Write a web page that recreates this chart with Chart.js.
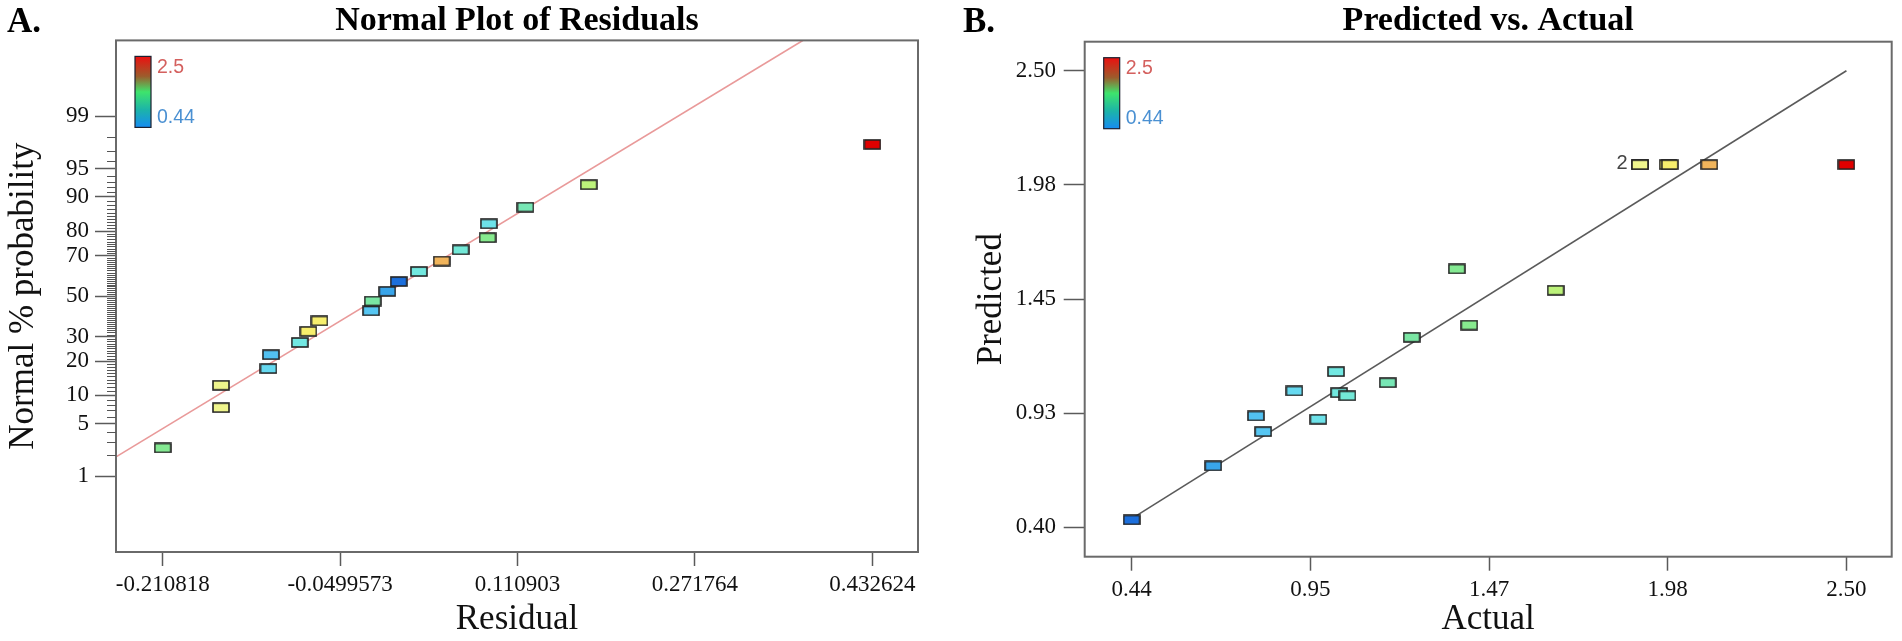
<!DOCTYPE html>
<html>
<head>
<meta charset="utf-8">
<script src="https://cdn.jsdelivr.net/npm/chart.js@4.4.1/dist/chart.umd.min.js"></script>
<style>
  html, body { margin: 0; padding: 0; background: #fff; }
  #wrap { position: relative; width: 1902px; height: 641px; overflow: hidden; }
  .panel { position: absolute; top: 0; width: 951px; height: 641px; }
  .tag { position: absolute; top: 3px; font: bold 35px "Liberation Serif", "Times New Roman", serif; line-height: 35px; color: #000; }
</style>
</head>
<body>
<div id="wrap">
  <div class="panel" style="left:0"><canvas id="residualChart" width="951" height="641"></canvas></div>
  <div class="panel" style="left:951px"><canvas id="predChart" width="951" height="641"></canvas></div>
  <div class="tag" style="left:7px">A.</div>
  <div class="tag" style="left:963px">B.</div>
</div>
<script>
// runs: actual response and model prediction
var actualValues    = [0.44, 0.675, 0.798, 0.819, 0.909, 0.978, 1.029, 1.038, 1.062, 1.178, 1.247, 1.377, 1.413, 1.662, 1.905, 1.905, 1.985, 1.991, 2.105, 2.50];
var predictedValues = [0.434, 0.682, 0.912, 0.840, 1.027, 0.897, 1.116, 1.019, 1.005, 1.065, 1.274, 1.588, 1.330, 1.490, 2.068, 2.068, 2.068, 2.068, 2.068, 2.068];

// normal plot: ordered residuals, their normal % probability, response (for colour)
var residuals        = [-0.2108, -0.158, -0.158, -0.1149, -0.1127, -0.0865, -0.0787, -0.0687, -0.0219, -0.0204, -0.0072, 0.0032, 0.0215, 0.0421, 0.0593, 0.0837, 0.0849, 0.1181, 0.1754, 0.4326];
var residualProb     = [2.5, 7.5, 12.5, 17.5, 22.5, 27.5, 32.5, 37.5, 42.5, 47.5, 52.5, 57.5, 62.5, 67.5, 72.5, 77.5, 82.5, 87.5, 92.5, 97.5];
var residualResponse = [1.377, 1.905, 1.905, 0.909, 0.798, 1.029, 1.991, 1.985, 0.819, 1.247, 0.675, 0.44, 1.038, 2.105, 1.062, 1.413, 0.978, 1.178, 1.662, 2.50];

// tick values and labels
var residualTicks = [-0.210818, -0.0499573, 0.110903, 0.271764, 0.432624];
var residualTickLabels = ['-0.210818', '-0.0499573', '0.110903', '0.271764', '0.432624'];
var probTicks = [1, 5, 10, 20, 30, 50, 70, 80, 90, 95, 99];
var actualTicks = [0.44, 0.955, 1.47, 1.985, 2.50];
var actualTickLabels = ['0.44', '0.95', '1.47', '1.98', '2.50'];
var predTicks = [0.40, 0.925, 1.45, 1.975, 2.50];
var predTickLabels = ['0.40', '0.93', '1.45', '1.98', '2.50'];

// reference lines
var normalLineX = [-0.2531, 0.3695];
var normalLineP = [1.904, 99.952];
var diagLine = [0.44, 2.50];

// colour legend range
var colorRange = [0.44, 2.5];

// ---- helpers ----
function probit(p) {
  var a = [-39.69683028665376, 220.9460984245205, -275.9285104469687, 138.3577518672690, -30.66479806614716, 2.506628277459239];
  var b = [-54.47609879822406, 161.5858368580409, -155.6989798598866, 66.80131188771972, -13.28068155288572];
  var c = [-0.007784894002430293, -0.3223964580411365, -2.400758277161838, -2.549732539343734, 4.374664141464968, 2.938163982698783];
  var d = [0.007784695709041462, 0.3224671290700398, 2.445134137142996, 3.754408661907416];
  var pl = 0.02425, q, r;
  if (p < pl) {
    q = Math.sqrt(-2 * Math.log(p));
    return (((((c[0]*q+c[1])*q+c[2])*q+c[3])*q+c[4])*q+c[5]) / ((((d[0]*q+d[1])*q+d[2])*q+d[3])*q+1);
  }
  if (p > 1 - pl) {
    q = Math.sqrt(-2 * Math.log(1 - p));
    return -(((((c[0]*q+c[1])*q+c[2])*q+c[3])*q+c[4])*q+c[5]) / ((((d[0]*q+d[1])*q+d[2])*q+d[3])*q+1);
  }
  q = p - 0.5; r = q * q;
  return (((((a[0]*r+a[1])*r+a[2])*r+a[3])*r+a[4])*r+a[5])*q / (((((b[0]*r+b[1])*r+b[2])*r+b[3])*r+b[4])*r+1);
}

var colorStops = [
  [0.44, [28, 111, 220]], [0.68, [58, 166, 234]], [0.82, [86, 198, 242]], [0.92, [104, 219, 240]],
  [1.03, [114, 232, 226]], [1.12, [116, 232, 196]], [1.25, [122, 230, 162]], [1.41, [134, 234, 142]],
  [1.66, [188, 242, 122]], [1.90, [238, 245, 142]], [1.99, [247, 239, 108]], [2.10, [241, 182, 92]],
  [2.50, [224, 0, 0]]
];
function responseColor(v) {
  if (v <= colorStops[0][0]) return 'rgb(' + colorStops[0][1].join(',') + ')';
  for (var i = 1; i < colorStops.length; i++) {
    if (v <= colorStops[i][0]) {
      var a = colorStops[i - 1], b = colorStops[i];
      var t = (v - a[0]) / (b[0] - a[0]);
      var rgb = a[1].map(function (c, k) { return Math.round(c + (b[1][k] - c) * t); });
      return 'rgb(' + rgb.join(',') + ')';
    }
  }
  return 'rgb(' + colorStops[colorStops.length - 1][1].join(',') + ')';
}

var rectCache = {};
function rectPoint(color) {
  if (rectCache[color]) return rectCache[color];
  var c = document.createElement('canvas');
  c.width = 18; c.height = 11;
  var g = c.getContext('2d');
  g.fillStyle = color;
  g.fillRect(1, 1, 16, 9);
  g.strokeStyle = '#222';
  g.lineWidth = 1.6;
  g.strokeRect(1, 1, 16, 9);
  rectCache[color] = c;
  return c;
}

var serif = "'Liberation Serif', 'Times New Roman', serif";
var sans = "'Liberation Sans', Arial, sans-serif";
var tickFont = { family: serif, size: 23 };
var axisFont = { family: serif, size: 35, lineHeight: 1.2 };
var titleFont = { family: serif, size: 34, weight: 'bold', lineHeight: 1.1 };

// box around plot area
var framePlugin = {
  id: 'frame',
  afterDraw: function (chart) {
    var a = chart.chartArea, ctx = chart.ctx;
    ctx.save();
    ctx.strokeStyle = '#6a6a6a';
    ctx.lineWidth = 2;
    ctx.strokeRect(a.left, a.top, a.right - a.left, a.bottom - a.top);
    ctx.restore();
  }
};

// colour legend bar in the top-left corner
var colorBarPlugin = {
  id: 'colorBar',
  afterDraw: function (chart) {
    var a = chart.chartArea, ctx = chart.ctx;
    var x = a.left + 19, y = a.top + 16, w = 16, h = 71;
    ctx.save();
    var grad = ctx.createLinearGradient(0, y, 0, y + h);
    grad.addColorStop(0, '#ec1010');
    grad.addColorStop(0.28, '#9c5c2c');
    grad.addColorStop(0.5, '#3ee46c');
    grad.addColorStop(0.75, '#1cb4a8');
    grad.addColorStop(1, '#168cf2');
    ctx.fillStyle = grad;
    ctx.fillRect(x, y, w, h);
    ctx.strokeStyle = '#1c2030';
    ctx.lineWidth = 1.2;
    ctx.strokeRect(x, y, w, h);
    ctx.font = '19.5px ' + sans;
    ctx.textAlign = 'left';
    ctx.textBaseline = 'middle';
    ctx.fillStyle = '#d4605e';
    ctx.fillText(String(colorRange[1]), x + w + 6, y + 11);
    ctx.fillStyle = '#4a90d2';
    ctx.fillText(String(colorRange[0]), x + w + 6, y + 61);
    ctx.restore();
  }
};

// short minor ticks of the probability axis
var minorTickPlugin = {
  id: 'minorTicks',
  afterDraw: function (chart) {
    var s = chart.scales.y, left = chart.chartArea.left, ctx = chart.ctx;
    ctx.save();
    ctx.strokeStyle = '#555';
    ctx.lineWidth = 1;
    for (var p = 1; p <= 99; p++) {
      if (probTicks.indexOf(p) >= 0) continue;
      var py = Math.round(s.getPixelForValue(probit(p / 100))) + 0.5;
      ctx.beginPath();
      ctx.moveTo(left - 9, py);
      ctx.lineTo(left, py);
      ctx.stroke();
    }
    ctx.restore();
  }
};

// count label for coincident points
var dupLabelPlugin = {
  id: 'dupLabel',
  afterDatasetsDraw: function (chart) {
    var counts = {};
    actualValues.forEach(function (v, i) {
      var k = v + '|' + predictedValues[i];
      counts[k] = counts[k] || { n: 0, x: v, y: predictedValues[i] };
      counts[k].n++;
    });
    var ctx = chart.ctx;
    ctx.save();
    ctx.font = '20px ' + sans;
    ctx.fillStyle = '#444';
    ctx.textAlign = 'center';
    ctx.textBaseline = 'middle';
    Object.keys(counts).forEach(function (k) {
      var c = counts[k];
      if (c.n < 2) return;
      var px = chart.scales.x.getPixelForValue(c.x), py = chart.scales.y.getPixelForValue(c.y);
      ctx.fillText(String(c.n), px - 18, py - 1);
    });
    ctx.restore();
  }
};

function axisGrid(len) {
  return { drawOnChartArea: false, drawTicks: true, tickLength: len, tickColor: '#5a5a5a', tickWidth: 1.5 };
}

// ---- A. normal plot of residuals ----
var residualPoints = residuals.map(function (r, i) { return { x: r, y: probit(residualProb[i] / 100) }; });
var residualStyles = residualResponse.map(function (v) { return rectPoint(responseColor(v)); });
var normalLine = normalLineX.map(function (r, i) { return { x: r, y: probit(normalLineP[i] / 100) }; });

new Chart(document.getElementById('residualChart'), {
  type: 'scatter',
  data: {
    datasets: [{
      data: residualPoints,
      pointStyle: residualStyles,
      order: 0
    }, {
      type: 'line',
      data: normalLine,
      borderColor: '#e99a9a',
      borderWidth: 1.6,
      pointRadius: 0,
      fill: false,
      order: 1
    }]
  },
  options: {
    responsive: false,
    animation: false,
    events: [],
    layout: { padding: { left: 0, right: 33, top: 0, bottom: 0 } },
    plugins: {
      legend: { display: false },
      tooltip: { enabled: false },
      title: { display: true, text: 'Normal Plot of Residuals', fullSize: false, color: '#000', font: titleFont, padding: { top: 3, bottom: 0 } }
    },
    scales: {
      x: {
        type: 'linear', min: -0.25314, max: 0.47395,
        afterBuildTicks: function (s) { s.ticks = residualTicks.map(function (v) { return { value: v }; }); },
        afterFit: function (s) { s.height = 89; },
        ticks: { autoSkip: false, maxRotation: 0, color: '#111', font: tickFont, padding: 5,
                 callback: function (v, i) { return residualTickLabels[i]; } },
        grid: axisGrid(14),
        border: { display: false },
        title: { display: true, text: 'Residual', color: '#111', font: axisFont, padding: { top: 0, bottom: 0 } }
      },
      y: {
        type: 'linear', min: -3.303, max: 3.303,
        afterBuildTicks: function (s) { s.ticks = probTicks.map(function (p) { return { value: probit(p / 100) }; }); },
        afterFit: function (s) { s.width = 116; },
        ticks: { autoSkip: false, color: '#111', font: tickFont, padding: 6,
                 callback: function (v, i) { return String(probTicks[i]); } },
        grid: axisGrid(21),
        border: { display: false },
        title: { display: true, text: 'Normal % probability', color: '#111', font: axisFont, padding: { top: 3, bottom: 0 } }
      }
    }
  },
  plugins: [framePlugin, colorBarPlugin, minorTickPlugin]
});

// ---- B. predicted vs actual ----
var predPoints = actualValues.map(function (v, i) { return { x: v, y: predictedValues[i] }; });
var predStyles = actualValues.map(function (v) { return rectPoint(responseColor(v)); });

new Chart(document.getElementById('predChart'), {
  type: 'scatter',
  data: {
    datasets: [{
      data: predPoints,
      pointStyle: predStyles,
      order: 0
    }, {
      type: 'line',
      data: diagLine.map(function (v) { return { x: v, y: v }; }),
      borderColor: '#5a5a5a',
      borderWidth: 1.6,
      pointRadius: 0,
      fill: false,
      order: 1
    }]
  },
  options: {
    responsive: false,
    animation: false,
    events: [],
    layout: { padding: { left: 0, right: 10.3, top: 0, bottom: 0 } },
    plugins: {
      legend: { display: false },
      tooltip: { enabled: false },
      title: { display: true, text: 'Predicted vs. Actual', fullSize: false, color: '#000', font: titleFont, padding: { top: 3, bottom: 1.3 } }
    },
    scales: {
      x: {
        type: 'linear', min: 0.3046, max: 2.6305,
        afterBuildTicks: function (s) { s.ticks = actualTicks.map(function (v) { return { value: v }; }); },
        afterFit: function (s) { s.height = 84.3; },
        ticks: { autoSkip: false, maxRotation: 0, color: '#111', font: tickFont, padding: 5,
                 callback: function (v, i) { return actualTickLabels[i]; } },
        grid: axisGrid(14),
        border: { display: false },
        title: { display: true, text: 'Actual', color: '#111', font: axisFont, padding: { top: 0, bottom: 0 } }
      },
      y: {
        type: 'linear', min: 0.2648, max: 2.6334,
        afterBuildTicks: function (s) { s.ticks = predTicks.map(function (v) { return { value: v }; }); },
        afterFit: function (s) { s.width = 133.7; },
        ticks: { autoSkip: false, color: '#111', font: tickFont, padding: 7.7,
                 callback: function (v, i) { return predTickLabels[i]; } },
        grid: axisGrid(21),
        border: { display: false },
        title: { display: true, text: 'Predicted', color: '#111', font: axisFont, padding: { top: 20, bottom: 0 } }
      }
    }
  },
  plugins: [framePlugin, colorBarPlugin, dupLabelPlugin]
});
</script>
</body>
</html>
